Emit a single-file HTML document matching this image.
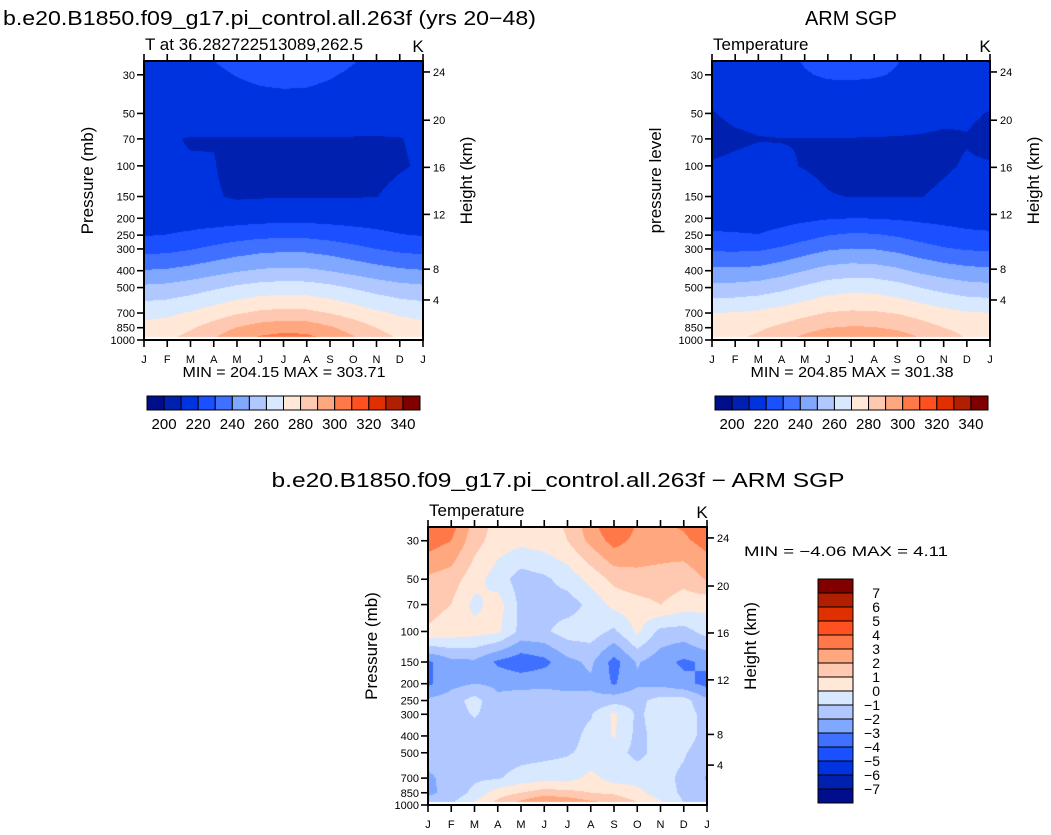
<!DOCTYPE html>
<html><head><meta charset="utf-8">
<style>
html,body{margin:0;padding:0;background:#fff;}
#wrap{position:relative;width:1051px;height:835px;overflow:hidden;background:#fff;}
canvas{position:absolute;}
svg{position:absolute;left:0;top:0;}
text{font-family:"Liberation Sans",sans-serif;fill:#000;}
</style></head>
<body>
<div id="wrap">
<canvas id="c1"></canvas>
<canvas id="c2"></canvas>
<canvas id="c3"></canvas>
<svg id="ov" width="1051" height="835"></svg>
</div>
<script>
const months=['J','F','M','A','M','J','J','A','S','O','N','D','J'];
const presLevels=[25,30,50,70,100,150,200,250,300,400,500,700,850,1000];
const modelT=[
[216,216.5,218,220,222,223.4,224,223.8,222.4,220.4,218.4,216.8,216],
[215,215.5,216.8,218.5,220.3,221.5,222,221.8,220.6,218.9,217.1,215.7,215],
[213,213.2,213.9,214.8,215.6,216.3,216.5,216.4,215.8,214.9,214,213.4,213],
[211,210.5,209.7,209.7,209.5,209.6,209.6,209.6,209.6,209.5,209.5,209.8,211],
[210.6,210.5,210.4,210.3,207.5,207,207,207,207,207.5,208.5,209.5,210.6],
[212,212,211.5,210.8,209,209.3,209.6,209.6,209.5,209.6,209.9,211.5,212],
[215.5,215.5,215.5,215.3,215.8,216.5,217,217,216.5,216,216,215.5,215.5],
[219.6,220.2,221.7,223.8,225.9,227.4,228,227.7,226.3,224.2,222.1,220.4,219.6],
[226.5,227.3,229.4,232.3,235.1,237.2,238,237.7,235.7,232.8,230,227.7,226.5],
[240.5,241.3,243.4,246.3,249.1,251.2,252,251.7,249.7,246.8,244,241.7,240.5],
[252,252.9,255.3,258.5,261.8,264.1,265,264.6,262.4,259.2,255.9,253.3,252],
[267,268.1,271,275,279,281.9,283,282.5,279.8,275.8,271.8,268.6,267],
[273,274.6,278.8,284.5,290.3,294.4,296.5,295.8,291.4,285.7,279.9,275.3,273],
[277,279,284,291,298,303,305,304.2,299.4,292.4,285.4,279.8,277]];
const obsT=[
[214,214.3,215.5,218,220.5,221.8,222,221.5,220.2,218,216,214.6,214],
[213.5,213.8,214.8,216.8,219.5,220.8,221,220.6,219.5,217.5,215.5,214,213.5],
[209.7,211,211.5,212.5,213.5,214,214,213.8,213.2,212.5,211.5,210.8,209.7],
[208.5,209.2,209.8,209.9,209.9,209.9,209.8,209.7,209.6,209.4,209,209.7,208.5],
[210.4,211,211.5,210.5,209.8,209,207,207.5,208,208.3,209.3,210.5,210.4],
[212.5,212.8,213,212.5,211.5,210.3,209.9,209.8,209.7,209.8,211,212,212.5],
[216.5,216.2,216,217,218,219.3,220,219.8,219,218,217.5,216.8,216.5],
[221.2,220.8,220.3,222.5,226,229.8,231.4,231,229,226,223.5,221.8,221.2],
[228.5,228.3,228.6,231.5,235.5,239,240.3,239.8,237.5,234,231,229.2,228.5],
[242,242.2,243,246,250,253.6,255,254.5,252,248,245,243,242],
[253,253.3,254.5,257.5,261.5,265.4,267,266.5,264,260,256.5,254,253],
[270.1,270.5,272,274.5,277.5,280.5,281.5,281.2,279.5,276.5,273.5,271,270.1],
[276,276.5,278.5,282,286,289.8,291,290.6,288,284,280,277.2,276],
[278,279,282.5,288,294,299.5,302.5,302,297,291,285,280,278]];
const diffT=[
[3.9,3.4,1.6,0.6,0.4,0.6,1.1,2.6,3.9,2.9,2.8,3.1,3.9],
[3.5,3.0,1.4,0.5,0.3,0.5,1.0,2.3,3.4,2.7,2.6,2.8,3.4],
[1.8,1.5,0.4,-0.5,-1.5,-1.2,-0.6,0.3,1.3,1.7,1.6,1.3,2.1],
[1.3,1.0,-0.3,0.5,-1.3,-1.3,-1.5,-0.7,0.3,0.6,1.0,0.5,0.3],
[0.9,0.6,0.4,0.2,-1.3,-1.2,-0.5,-0.5,-1.2,0.2,-1.3,-1.4,-0.6],
[-3.2,-2.3,-2.2,-3.2,-3.7,-3.3,-2.3,-1.8,-3.4,-1.9,-2.6,-3.2,-2.8],
[-3.2,-2.3,-2.0,-2.2,-2.3,-2.2,-2.4,-2.2,-3.1,-2.2,-2.3,-2.7,-3.3],
[-1.8,-1.5,-0.6,-1.8,-1.5,-1.5,-1.5,-1.7,-1.4,-1.3,-0.6,-0.6,-1.8],
[-1.5,-1.5,-0.9,-1.5,-1.5,-1.5,-1.4,-1.1,0.2,-1.2,-0.5,-0.5,-1.4],
[-1.5,-1.5,-1.5,-1.5,-1.5,-1.5,-1.4,-0.7,0.1,-1.3,-0.6,-0.5,-1.4],
[-1.5,-1.5,-1.5,-1.5,-1.4,-1.3,-1.1,-0.7,-0.6,-1.3,-0.6,-0.9,-1.6],
[-2.2,-1.6,-1.2,-1.1,-0.6,-0.4,-0.4,0.3,-0.4,-0.4,-0.7,-1.2,-2.1],
[-2.2,-1.7,-0.7,0.5,1.0,1.5,1.3,1.0,0.8,0.3,-0.5,-1.2,-1.8],
[-1.5,-1.0,0.3,1.5,2.6,3.5,3.2,2.5,2.2,1.2,0.3,-1.0,-1.5]];
const tempLevels=[200,210,220,230,240,250,260,270,280,290,300,310,320,330,340];
const diffLevels=[-7,-6,-5,-4,-3,-2,-1,0,1,2,3,4,5,6,7];
const fillColors=['#000e8c','#0020b0','#0033e0','#1a50ff','#4070ff','#80a8ff','#b0c8ff','#d8e8ff','#ffe8d8','#ffc8b0','#ffa880','#ff7848','#ff5020','#e03000','#b02000','#800000'];
const pTicks=[30,50,70,100,150,200,250,300,400,500,700,850,1000];
const hTickKm=[24,20,16,12,8,4];
const hTickP=[28.9,54.7,102,190,392,589];

const NS='http://www.w3.org/2000/svg';
const ov=document.getElementById('ov');
const P_TOP=25,P_BOT=1000,P_CUT=960;
function mk(tag,attrs,parent){const e=document.createElementNS(NS,tag);for(const k in attrs)e.setAttribute(k,attrs[k]);(parent||ov).appendChild(e);return e;}
function yOf(pn,p){return pn.T+(pn.B-pn.T)*Math.log(p/P_TOP)/Math.log(P_BOT/P_TOP);}
function xOf(pn,m){return pn.L+(pn.R-pn.L)*m/12;}
const lnP=presLevels.map(Math.log);
function sample(data,m,p){
  const lp=Math.log(p);
  let k=0;while(k<lnP.length-2&&lp>lnP[k+1])k++;
  let f=(lp-lnP[k])/(lnP[k+1]-lnP[k]);f=Math.max(0,Math.min(1,f));
  let i=Math.floor(m);if(i>11)i=11;if(i<0)i=0;const g=m-i;
  const a=data[k][i]*(1-g)+data[k][i+1]*g;
  const b=data[k+1][i]*(1-g)+data[k+1][i+1]*g;
  return a*(1-f)+b*f;
}
function hexRgb(h){return [parseInt(h.slice(1,3),16),parseInt(h.slice(3,5),16),parseInt(h.slice(5,7),16)];}
const rgbCols=fillColors.map(hexRgb);
function drawFill(id,pn,data,levels){
  const c=document.getElementById(id);
  const w=pn.R-pn.L,h=pn.B-pn.T;
  c.width=w;c.height=h;c.style.left=pn.L+'px';c.style.top=pn.T+'px';
  const ctx=c.getContext('2d');const img=ctx.createImageData(w,h);
  for(let y=0;y<h;y++){
    const p=P_TOP*Math.exp((y+0.5)/h*Math.log(P_BOT/P_TOP));
    for(let x=0;x<w;x++){
      const o=(y*w+x)*4;
      if(p>P_CUT){img.data[o]=255;img.data[o+1]=255;img.data[o+2]=255;img.data[o+3]=255;continue;}
      const v=sample(data,(x+0.5)/w*12,p);
      let idx=0;while(idx<levels.length&&v>=levels[idx])idx++;
      const col=rgbCols[idx];
      img.data[o]=col[0];img.data[o+1]=col[1];img.data[o+2]=col[2];img.data[o+3]=255;
    }
  }
  ctx.putImageData(img,0,0);
}
function axes(pn,name,leftTitle,rightTitle,subLeft,subLeftX){
  const g=mk('g',{});
  
  
  const fr=mk('rect',{x:pn.L,y:pn.T,width:pn.R-pn.L,height:pn.B-pn.T,fill:'none',stroke:'#000','stroke-width':2},g);
  
  
  months.forEach((mo,i)=>{
    const x=xOf(pn,i);
    mk('line',{x1:x,x2:x,y1:pn.B,y2:pn.B+7,stroke:'#000','stroke-width':1.6},g);
    mk('line',{x1:x,x2:x,y1:pn.T,y2:pn.T-7,stroke:'#000','stroke-width':1.6},g);
    const t=mk('text',{x:x,y:pn.B+23,'font-size':11,'text-anchor':'middle'},g);t.textContent=mo;
    
    
  });
  pTicks.forEach(p=>{
    const y=yOf(pn,p);
    mk('line',{x1:pn.L-7,x2:pn.L,y1:y,y2:y,stroke:'#000','stroke-width':1.6},g);
    const t=mk('text',{x:pn.L-9,y:y+4,'font-size':11,'text-anchor':'end'},g);t.textContent=p;
    
    
  });
  hTickKm.forEach((km,i)=>{
    const y=yOf(pn,hTickP[i]);
    mk('line',{x1:pn.R,x2:pn.R+7,y1:y,y2:y,stroke:'#000','stroke-width':1.6},g);
    const t=mk('text',{x:pn.R+10,y:y+4,'font-size':11},g);t.textContent=km;
    
    
  });
  const cy=(pn.T+pn.B)/2-20;
  const lt=mk('text',{x:0,y:0,'font-size':17,'text-anchor':'middle',transform:`translate(${pn.L-51},${cy}) rotate(-90)`},g);lt.textContent=leftTitle;
  
  
  const rt=mk('text',{x:0,y:0,'font-size':17,'text-anchor':'middle',transform:`translate(${pn.R+49},${cy}) rotate(-90)`},g);rt.textContent=rightTitle;
  
  
  const sl=mk('text',{x:subLeftX,y:pn.T-11,'font-size':17},g);sl.textContent=subLeft;
  
  
  const k=mk('text',{x:pn.R-5,y:pn.T-9,'font-size':17,'text-anchor':'middle'},g);k.textContent='K';
  
  
}
function hColorbar(x0,x1,y0,y1,name){
  const n=fillColors.length,w=(x1-x0)/n;
  fillColors.forEach((c,i)=>{
    const r=mk('rect',{x:x0+i*w,y:y0,width:w,height:y1-y0,fill:c,stroke:'#000','stroke-width':1});
    
    
  });
  tempLevels.forEach((lv,i)=>{
    if(i%2)return;
    const t=mk('text',{x:x0+(i+1)*w,y:y1+19,'font-size':15,'text-anchor':'middle'});t.textContent=lv;
    
    
  });
}
function vColorbar(x0,x1,y0,y1){
  const n=fillColors.length,h=(y1-y0)/n;
  fillColors.forEach((c,i)=>{
    const r=mk('rect',{x:x0,y:y1-(i+1)*h,width:x1-x0,height:h,fill:c,stroke:'#000','stroke-width':1});
    
    
  });
  diffLevels.forEach((lv,i)=>{
    const t=mk('text',{x:x1+27,y:y1-(i+1)*h+5,'font-size':14,'text-anchor':'end'});t.textContent=(lv<0?'\u2212'+(-lv):lv);
    
    
  });
}
function txt(x,y,s,size,name,anchor,len){
  const a={x:x,y:y,'font-size':size};if(anchor)a['text-anchor']=anchor;if(len){a.textLength=len;a.lengthAdjust='spacingAndGlyphs';}
  const t=mk('text',a);t.textContent=s;
  
  
}
const P1={L:144,T:61,R:423,B:340},P2={L:712,T:61,R:990,B:340},P3={L:428,T:527,R:707,B:805};
drawFill('c1',P1,modelT,tempLevels);
drawFill('c2',P2,obsT,tempLevels);
drawFill('c3',P3,diffT,diffLevels);
axes(P1,'model','Pressure (mb)','Height (km)','T at 36.282722513089,262.5',145);
axes(P2,'obs','pressure level','Height (km)','Temperature',713);
axes(P3,'diff','Pressure (mb)','Height (km)','Temperature',429);
txt(3,25,'b.e20.B1850.f09_g17.pi_control.all.263f (yrs 20\u221248)',20,'model-title',null,533);
txt(851,25,'ARM SGP',20,'obs-title','middle',92);
txt(558,487,'b.e20.B1850.f09_g17.pi_control.all.263f \u2212 ARM SGP',20,'diff-title','middle',573);
txt(284,377,'MIN = 204.15 MAX = 303.71',15,'model-min-max','middle',203);
txt(852,377,'MIN = 204.85 MAX = 301.38',15,'obs-min-max','middle',203);
txt(744,556,'MIN =  \u22124.06 MAX =    4.11',14,'diff-min-max',null,204);
hColorbar(147,420,396,410,'model-colorbar');
hColorbar(715,988,396,410,'obs-colorbar');
vColorbar(818,853,579,803);
</script>
</body></html>
